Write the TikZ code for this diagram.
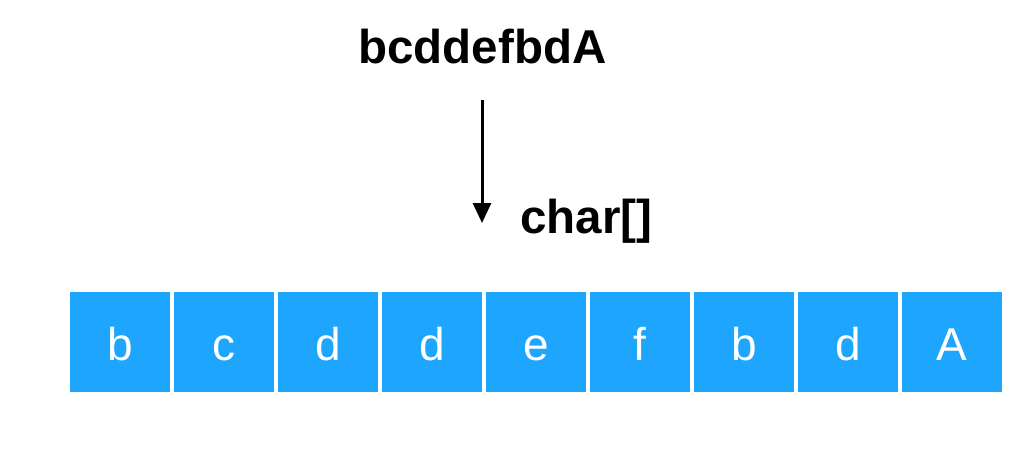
\documentclass[tikz,border=0pt]{standalone}
\usepackage{fontspec}
\setmainfont{Liberation Sans}
\usetikzlibrary{arrows.meta}
\definecolor{cellblue}{RGB}{30,165,253}
\begin{document}
\begin{tikzpicture}[x=1pt,y=-1pt,
  cell/.style={fill=cellblue, draw=none, minimum width=100pt, minimum height=100pt,
    inner sep=0pt, text=white, text height=37pt, text depth=0pt,
    font=\fontsize{46}{55}\selectfont},
  bigtext/.style={inner sep=0pt, font=\bfseries\fontsize{47.5}{57}\selectfont},
  arrowline/.style={line width=3pt, -{Triangle[width=18pt,length=20pt]}}]
\useasboundingbox (0,0) rectangle (1032,466);
\node[bigtext, anchor=base] (title) at (482.5,63) {bcddefbdA};
\node[bigtext, anchor=base west] (type) at (520,233) {char[]};
\coordinate (arrowStart) at (482,100);
\coordinate (arrowEnd) at (482,223);
\draw[arrowline] (arrowStart) -- (arrowEnd);
\foreach \ch [count=\i from 0] in {b,c,d,d,e,f,b,d,A} {
  \node[cell] (c\i) at (120+104*\i,341.5) {\ch};
}
\end{tikzpicture}
\end{document}
